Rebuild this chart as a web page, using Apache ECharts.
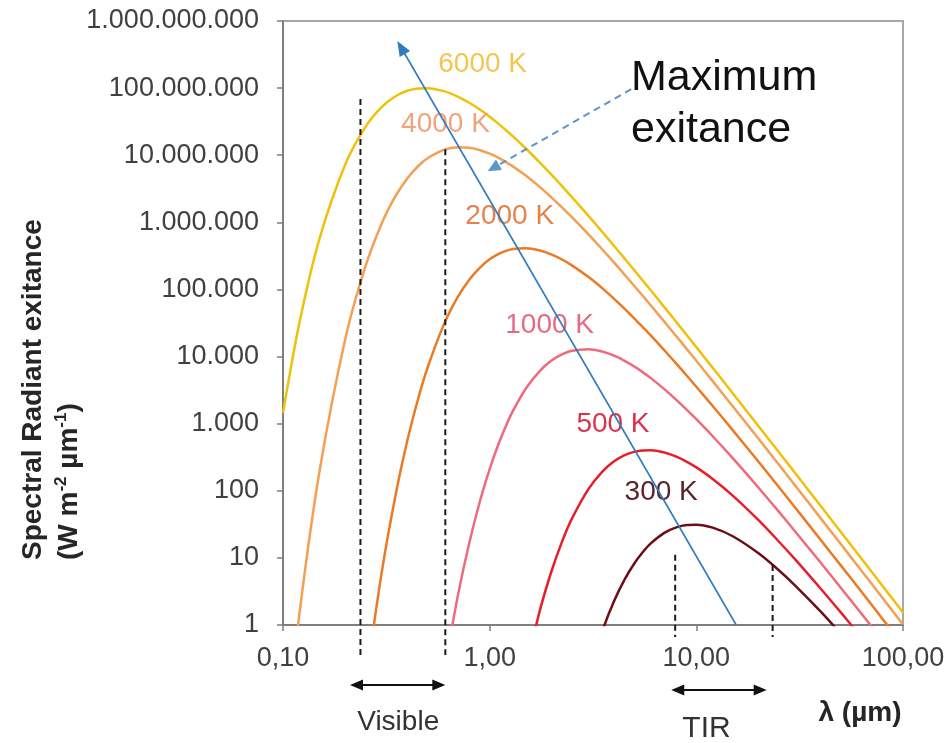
<!DOCTYPE html>
<html><head><meta charset="utf-8">
<script src="https://cdn.jsdelivr.net/npm/echarts@6/dist/echarts.min.js"></script>
<style>html,body{margin:0;padding:0;background:#fff}#c{width:949px;height:743px}</style>
</head><body><div id="c"></div>
<script>
// ---- data ----
const wavelengths = [0.1,0.12,0.15,0.2,0.25,0.3,0.35,0.4,0.45,0.5,0.6,0.7,0.8,0.9,1,1.1,1.2,1.3,1.5,1.75,2,2.25,2.5,3,3.5,4,4.5,5,5.5,6,7,8,9,10,12,15,20,25,30,40,50,60,80,100];
const t6000 = [1443,31500,562000,7260000,26200000,52000000,75500000,91300000,98800000,99800000,90100000,74800000,60000000,47500000,37400000,29600000,23600000,18930000,12490000,7770000,5050000,3410000,2380000,1258000,724000,445000,288000,194600,136000,98000,54500,32700,20800,13810,6800,2842,918,381,185,59.2,24.4,11.8,3.75,1.54];
const t4000 = [0.0089,1.44,190,18100,216000,956000,2450000,4550000,6850000,9000000,12020000,13140000,12880000,11870000,10540000,9180000,7900000,6760000,4930000,3350000,2320000,1644000,1192000,665000,397000,251000,165700,113700,80500,58600,33100,20100,12900,8645,4303,1818,594,247.6,120.9,38.8,16.05,7.79,2.48,1.02];
const t2000 = [null,null,null,null,0.122,5.94,84.4,565,2312,6754,29900,76600,142000,214000,281000,336000,376000,400000,411000,380000,330000,277000,228500,154000,104600,72500,51400,37200,27500,20800,12400,7834,5177,3553,1831,801,270,114.9,56.8,18.5,7.74,3.78,1.21,0.5];
const t1000 = [null,null,null,null,null,null,null,null,null,null,0.186,2.64,17.6,72.3,211,485,933,1573,3365,6127,8784,10850,12170,12830,11880,10300,8643,7140,5865,4813,3268,2266,1606,1164,649,306,111,49.3,25.0,8.44,3.59,1.78,0.58,0.24];
const t500  = [null,null,null,null,null,null,null,null,null,null,null,null,null,null,null,null,null,null,0.23,1.648,6.6,18.1,38.4,105,191.5,274.5,339,380,399,401,371,322,270,223,150,84.8,36.4,17.7,9.57,3.47,1.54,0.78,0.26,0.11];
const t300  = [null,null,null,null,null,null,null,null,null,null,null,null,null,null,null,null,null,null,null,null,null,null,null,0.175,0.797,2.27,4.77,8.18,12.1,16.3,23.6,28.5,30.9,31.2,28.2,21.0,11.7,6.6,3.9,1.58,0.74,0.39,0.139,0.061];
const seriesNames = ['6000 K','4000 K','2000 K','1000 K','500 K','300 K'];
const xTickLabels = ['0,10','1,00','10,00','100,00'];
const yTickLabels = ['1','10','100','1.000','10.000','100.000','1.000.000','10.000.000','100.000.000','1.000.000.000'];
// annotation anchors in data space (wavelength, exitance)
const curveLabelAnchors = [[0.925,2.28e8],[0.611,2.9e7],[1.25,1.23e6],[1.95,2.9e4],[3.95,966],[6.76,96.6]];
const boundaryLines = [[0.237,6.86e7],[0.61,1.23e7],[7.9,11.1],[23.4,7.86]];
const wienLine = [15.6,1,0.3575,5.03e8];
const maxArrow = [4.84,9.66e7,0.978,5.77e6];
const bandFrom = [0.211,7.56];
const bandTo = [0.61,21.9];
const bandLabelAt = [0.361,11.2];
const bandNames = ['Visible','TIR'];

// ---- styling ----
const FONT = '"Liberation Sans", Arial, sans-serif';
const curveColors = ['#EFC10A','#F3A055','#EC7A22','#EE6B7C','#E5202C','#6B0E16'];
const labelColors = ['#F3C64E','#F0A47C','#E5834C','#E56A86','#D8354D','#5A252C'];
const curves = [t6000,t4000,t2000,t1000,t500,t300];

function arrowHead(tip, from, L, W) {
  const dx = tip[0]-from[0], dy = tip[1]-from[1];
  const len = Math.hypot(dx,dy) || 1;
  const ux = dx/len, uy = dy/len;
  const bx = tip[0]-ux*L, by = tip[1]-uy*L;
  return [[tip[0],tip[1]],[bx - uy*W, by + ux*W],[bx + uy*W, by - ux*W]];
}

const chart = echarts.init(document.getElementById('c'), null, {renderer:'canvas'});

const series = curves.map((vals,k)=>({
  type:'line', name:seriesNames[k],
  data: wavelengths.map((w,i)=>[w, vals[i]===null ? '-' : vals[i]]),
  showSymbol:false, symbol:'none', smooth:0.3, clip:true,
  lineStyle:{color:curveColors[k], width:2.5}, itemStyle:{color:curveColors[k]},
  z:2, animation:false
}));

// dashed vertical boundary lines
series.push({
  type:'custom', clip:false, z:5, animation:false,
  data: boundaryLines,
  renderItem:(params, api)=>{
    const x = api.value(0), top = api.value(1);
    const p = api.coord([x, top]);
    const b = api.coord([x, 1]);
    const ext = params.dataIndex < 2 ? 30 : 12;
    return {type:'line', shape:{x1:p[0],y1:p[1],x2:b[0],y2:b[1]+ext},
      style:{stroke:'#1a1a1a', lineWidth:2, lineDash:[6,4]}};
  }
});

// Wien line (solid blue) and "maximum exitance" pointer (dashed blue)
function arrowSeries(vals, color, width, dash, L, W){
  return {
    type:'custom', clip:false, z:6, animation:false,
    data:[vals], encode:{x:[0,2], y:[1,3]},
    renderItem:(params, api)=>{
      const a = api.coord([api.value(0), api.value(1)]);
      const b = api.coord([api.value(2), api.value(3)]);
      const head = arrowHead(b, a, L, W);
      const dx=b[0]-a[0], dy=b[1]-a[1], len=Math.hypot(dx,dy);
      const e = [b[0]-dx/len*(L-2), b[1]-dy/len*(L-2)];
      return {type:'group', children:[
        {type:'line', shape:{x1:a[0],y1:a[1],x2:e[0],y2:e[1]}, style:{stroke:color, lineWidth:width, lineDash:dash}},
        {type:'polygon', shape:{points:head}, style:{fill:color}}
      ]};
    }
  };
}
series.push(arrowSeries(wienLine, '#2E7BC0', 1.6, null, 15, 6));
series.push(arrowSeries(maxArrow, '#5B95CC', 2, [7,5], 13, 6));

// band double arrows (Visible, TIR) below the axis
series.push({
  type:'custom', clip:false, z:6, animation:false,
  data: bandFrom.map((f,i)=>[f, bandTo[i], 1, bandLabelAt[i]]), encode:{x:[0,1,3], y:2},
  renderItem:(params, api)=>{
    const i = params.dataIndex;
    const a0 = api.coord([api.value(0), 1]);
    const a1 = api.coord([api.value(1), 1]);
    const lc = api.coord([api.value(3), 1]);
    const y = a0[1] + (i===0 ? 60 : 65);
    const ty = a0[1] + (i===0 ? 97 : 104);
    const p0=[a0[0],y], p1=[a1[0],y];
    return {type:'group', children:[
      {type:'line', shape:{x1:p0[0]+10,y1:y,x2:p1[0]-10,y2:y}, style:{stroke:'#111', lineWidth:2}},
      {type:'polygon', shape:{points:arrowHead(p0,p1,13,5.5)}, style:{fill:'#111'}},
      {type:'polygon', shape:{points:arrowHead(p1,p0,13,5.5)}, style:{fill:'#111'}},
      {type:'text', x:lc[0], y:ty, style:{text:bandNames[i], fill:'#333', fontSize: i===0?28:30, fontFamily:FONT, align:'center', verticalAlign:'middle'}}
    ]};
  }
});

// curve labels
series.push({
  type:'custom', clip:false, z:4, animation:false,
  data: curveLabelAnchors,
  renderItem:(params, api)=>{
    const p = api.coord([api.value(0), api.value(1)]);
    const i = params.dataIndex;
    return {type:'text', x:p[0], y:p[1], style:{text:seriesNames[i], fill:labelColors[i], fontSize:28, fontFamily:FONT, align:'center', verticalAlign:'middle'}};
  }
});

const axisCommon = {
  axisLine:{show:true, onZero:false, lineStyle:{color:'#7f7f7f', width:2}},
  axisTick:{show:true, inside:false, length:6, lineStyle:{color:'#7f7f7f', width:1.5}},
  minorTick:{show:false}, splitLine:{show:false}, minorSplitLine:{show:false}
};

chart.setOption({
  animation:false,
  backgroundColor:'#fff',
  grid:{left:283, right:46, top:21, bottom:118, show:true, borderColor:'#a8a8a8', borderWidth:2, backgroundColor:'transparent', containLabel:false, outerBoundsMode:'none'},
  xAxis:Object.assign({type:'log', logBase:10, min:0.1, max:100, splitNumber:3,
    axisLabel:{margin:20, fontSize:27, fontFamily:FONT, color:'#404040', showMinLabel:true, showMaxLabel:true, hideOverlap:false,
      formatter:v=>xTickLabels[Math.round(Math.log10(v))+1]}}, axisCommon),
  yAxis:Object.assign({type:'log', logBase:10, min:1, max:1e9, splitNumber:9,
    axisLabel:{margin:24, fontSize:27, fontFamily:FONT, color:'#404040', showMinLabel:true, showMaxLabel:true, hideOverlap:false,
      formatter:v=>yTickLabels[Math.round(Math.log10(v))]}}, axisCommon),
  series: series,
  graphic:[
    {type:'text', x:33, y:560, rotation:Math.PI/2, style:{text:'Spectral Radiant exitance', fill:'#262626', fontSize:28, fontWeight:'bold', fontFamily:FONT, align:'left', verticalAlign:'middle'}},
    {type:'text', x:69, y:560, rotation:Math.PI/2, style:{text:'(W m{s|-2} µm{s|-1})', fill:'#262626', fontSize:28, fontWeight:'bold', fontFamily:FONT, align:'left', verticalAlign:'middle',
      rich:{s:{fontSize:17, fontWeight:'bold', fontFamily:FONT, fill:'#262626', verticalAlign:'top', lineHeight:32}}}},
    {type:'text', x:860, y:713, style:{text:'λ (µm)', fill:'#262626', fontSize:28, fontWeight:'bold', fontFamily:FONT, align:'center', verticalAlign:'middle'}},
    {type:'text', x:631, y:52, style:{text:'Maximum\nexitance', fill:'#111', fontSize:43, lineHeight:52, fontFamily:FONT, align:'left', verticalAlign:'top'}}
  ]
});
</script></body></html>
